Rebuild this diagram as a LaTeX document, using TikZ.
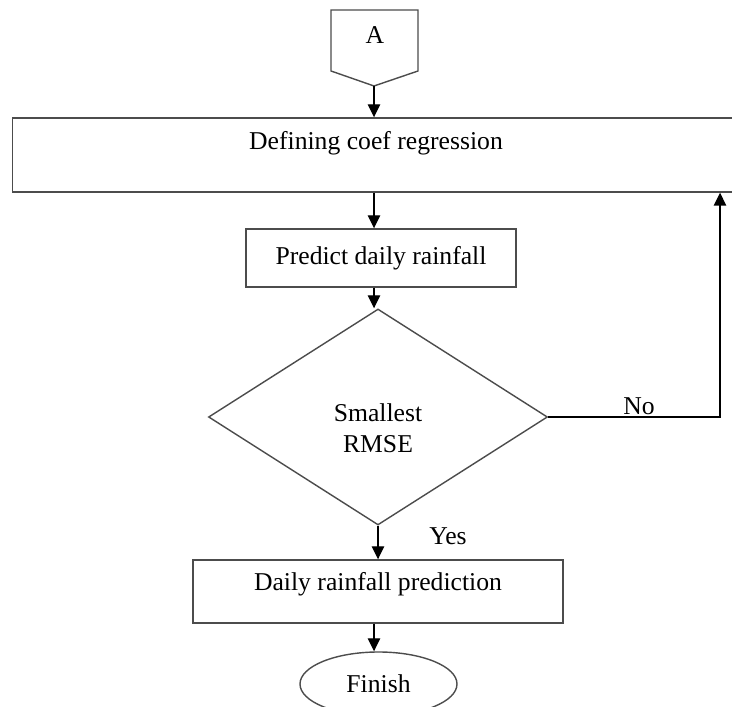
\documentclass[tikz,border=0pt]{standalone}
\usepackage{fontspec}
\setmainfont{Liberation Serif}
\usetikzlibrary{shapes.geometric,arrows.meta}

\begin{document}
\begin{tikzpicture}[
    font=\fontsize{14.6}{17.5}\selectfont,
    box/.style={draw=black!70, line width=0.8pt},
    arr/.style={-{Triangle[length=0.26cm,width=0.25cm]}, line width=0.8pt}
]
    \useasboundingbox (0,0) rectangle (14.64,14.12);

    % Соединитель A
    \draw[box] (6.62,13.92) -- (8.36,13.92) -- (8.36,12.70) -- (7.48,12.40) -- (6.62,12.70) -- cycle;
    \node (conA) at (7.5,13.42) {A};
    \coordinate (conTip) at (7.48,12.40);

    % Блоки
    \node[box, minimum width=15cm, minimum height=1.48cm, anchor=west] (coef) at (0.24,11.02) {};
    \node (coefText) at (7.52,11.26) {Defining coef regression};
    \node[box, minimum width=5.4cm, minimum height=1.16cm] (predict) at (7.62,8.96) {Predict daily rainfall};
    \node[box, diamond, minimum width=6.78cm, minimum height=4.32cm, inner sep=0pt] (rmse) at (7.56,5.78) {};
    \node[align=center] (rmseText) at (7.56,5.56) {Smallest\\RMSE};
    \node[box, minimum width=7.4cm, minimum height=1.26cm] (daily) at (7.56,2.29) {};
    \node (dailyText) at (7.56,2.44) {Daily rainfall prediction};
    \node[box, ellipse, minimum width=3.14cm, minimum height=1.28cm, inner sep=0pt] (finish) at (7.57,0.44) {Finish};

    % Стрелки
    \draw[arr] (conTip) -- (conTip |- coef.north);
    \draw[arr] (conTip |- coef.south) -- (conTip |- predict.north);
    \draw[arr] (conTip |- predict.south) -- (conTip |- rmse.north);
    \draw[arr] (rmse.south) -- node[pos=0.3, xshift=1.4cm] {Yes} (rmse.south |- daily.north);
    \draw[arr] (conTip |- daily.south) -- (conTip |- finish.north);

    % Возврат по "No"
    \coordinate (noCorner) at (14.4,5.78);
    \draw[arr] (rmse.east) -- node[above, inner sep=1pt, xshift=0.1cm] {No} (noCorner) -- (noCorner |- coef.south);
\end{tikzpicture}
\end{document}
